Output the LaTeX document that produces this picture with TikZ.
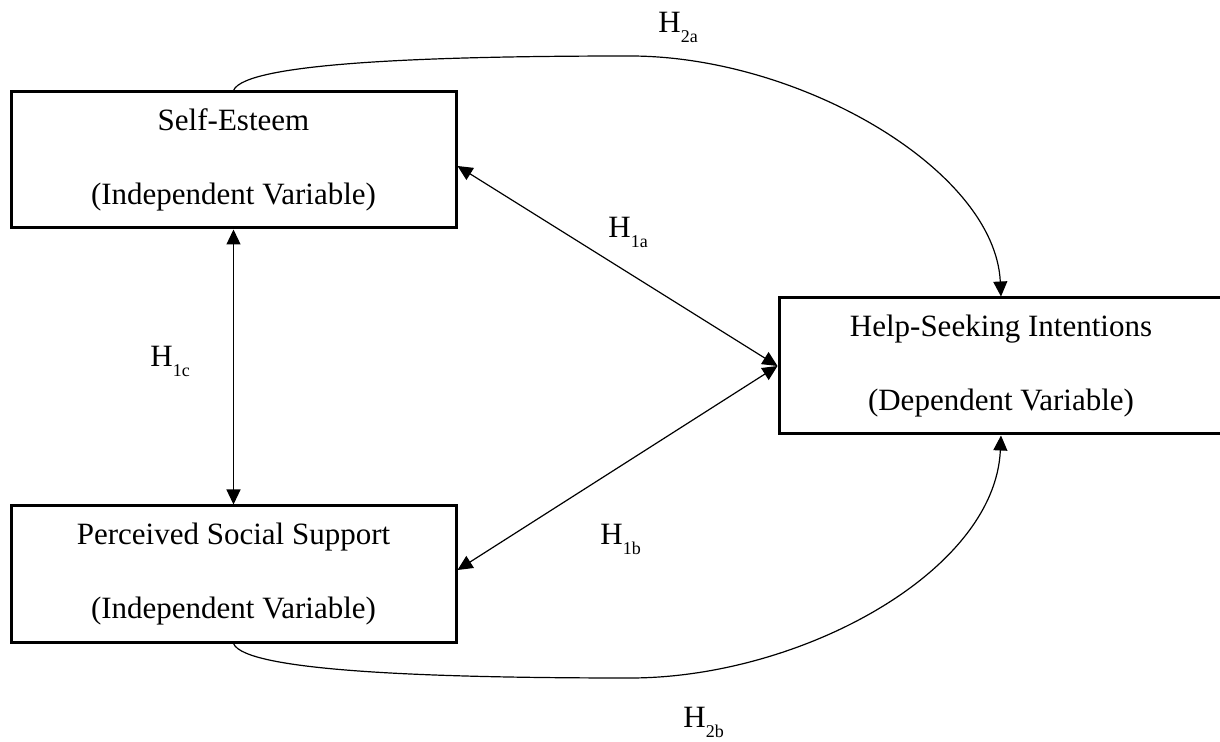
\documentclass[tikz,border=0pt]{standalone}
\usepackage{fontspec}
\setmainfont{Liberation Serif}
\usetikzlibrary{arrows.meta}
\newcommand{\hyp}[1]{H\raisebox{-5pt}{\fontsize{9}{9}\selectfont #1}}

\begin{document}
\begin{tikzpicture}[x=0.5pt,y=-0.5pt,
    varbox/.style={draw=black, line width=1.5pt, minimum width=222.5pt, minimum height=68pt,
        align=center, inner sep=0pt, font=\fontsize{15.5}{37}\selectfont},
    link/.style={line width=0.6pt, -{Triangle[length=7.5pt,width=7pt]}},
    twoway/.style={line width=0.6pt, {Triangle[length=7.5pt,width=7pt]}-{Triangle[length=7.5pt,width=7pt]}},
    hlabel/.style={anchor=base west, inner sep=0pt, font=\fontsize{15.5}{18}\selectfont}]
        \useasboundingbox (0,0) rectangle (1220,742);

        \node (se_box)[varbox] at (233.5,160) {Self-Esteem\\(Independent Variable)};
        \node (pss_box)[varbox] at (233.5,574) {Perceived Social Support\\(Independent Variable)};
        \node (hsi_box)[varbox, minimum width=222pt] at (1001,366) {Help-Seeking Intentions\\(Dependent Variable)};

        \node (h1a)[hlabel] at (608,238) {\hyp{1a}};
        \node (h1b)[hlabel] at (600,545) {\hyp{1b}};
        \node (h1c)[hlabel] at (150,367) {\hyp{1c}};
        \node (h2a)[hlabel] at (658,33) {\hyp{2a}};
        \node (h2b)[hlabel] at (683,727) {\hyp{2b}};

        \path(se_box.south) edge[twoway] (pss_box.north);
        \path([yshift=-3pt]se_box.east) edge[twoway] (hsi_box.west);
        \path([yshift=2pt]pss_box.east) edge[twoway] (hsi_box.west);
        \draw[link] (se_box.north) .. controls (245,62) and (440,56) .. (630,56)
            .. controls (800,56) and (995,170) .. (hsi_box.north);
        \draw[link] (pss_box.south) .. controls (245,672) and (440,678) .. (630,678)
            .. controls (800,678) and (995,572) .. (hsi_box.south);
    \end{tikzpicture}
\end{document}
